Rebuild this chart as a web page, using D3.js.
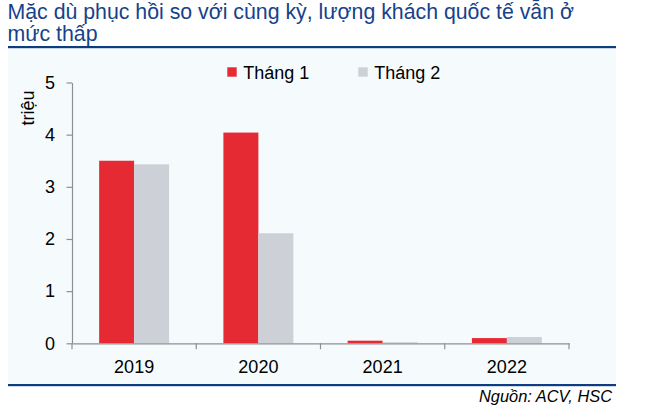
<!DOCTYPE html>
<html>
<head>
<meta charset="utf-8">
<script src="https://cdn.jsdelivr.net/npm/d3@7"></script>
<style>
  body { margin: 0; background: #fff; }
  svg { display: block; font-family: "Liberation Sans", Arial, sans-serif; }
</style>
</head>
<body>
<svg id="chart"></svg>
<script>
const years = ["2019", "2020", "2021", "2022"];
const seriesNames = ["Tháng 1", "Tháng 2"];
const thang1 = [3.50, 4.04, 0.05, 0.10];
const thang2 = [3.43, 2.11, 0.02, 0.12];
const yTicks = [0, 1, 2, 3, 4, 5];
const titleLines = ["Mặc dù phục hồi so với cùng kỳ, lượng khách quốc tế vẫn ở", "mức thấp"];

const W = 657, H = 415;
const colors = { "Tháng 1": "#e52a34", "Tháng 2": "#cdd0d6" };
const navy = "#0d3d80";

const svg = d3.select("#chart").attr("width", W).attr("height", H);

// title
svg.append("text")
  .attr("fill", "#16428a")
  .attr("font-size", 21.3)
  .selectAll("tspan")
  .data(titleLines)
  .join("tspan")
  .attr("x", 7.5)
  .attr("y", (d, i) => 18.5 + i * 22)
  .text(d => d);

// panel
svg.append("rect")
  .attr("x", 8).attr("y", 47)
  .attr("width", 608).attr("height", 338)
  .attr("fill", "#f5fbfc");

svg.append("rect").attr("x", 8).attr("y", 46).attr("width", 608).attr("height", 2.2).attr("fill", navy);
svg.append("rect").attr("x", 8).attr("y", 384).attr("width", 608).attr("height", 2.2).attr("fill", navy);

svg.append("text")
  .attr("x", 612).attr("y", 402)
  .attr("text-anchor", "end")
  .attr("font-size", 16.4)
  .attr("font-style", "italic")
  .attr("fill", "#000")
  .text("Nguồn: ACV, HSC");

// scales
const x0 = d3.scaleBand().domain(years).range([72, 569]).padding(0);
const x1 = d3.scaleBand().domain(seriesNames).range([0, x0.bandwidth()]).paddingInner(0).paddingOuter(0.776);
const y = d3.scaleLinear().domain([0, 5]).range([343.3, 82.5]);

const rows = years.map((yr, i) => ({ year: yr, values: [
  { key: "Tháng 1", value: thang1[i] },
  { key: "Tháng 2", value: thang2[i] }
]}));

const groups = svg.append("g").selectAll("g")
  .data(rows)
  .join("g")
  .attr("transform", d => `translate(${x0(d.year)},0)`);

groups.selectAll("rect")
  .data(d => d.values)
  .join("rect")
  .attr("x", d => x1(d.key))
  .attr("width", x1.bandwidth())
  .attr("y", d => y(d.value))
  .attr("height", d => y(0) - y(d.value))
  .attr("fill", d => colors[d.key]);

// axes
const axisColor = "#8f8f8f";

const yAxis = svg.append("g")
  .attr("transform", "translate(72,0)")
  .call(d3.axisLeft(y).tickValues(yTicks).tickFormat(d3.format("d")).tickSize(5.5).tickSizeOuter(0).tickPadding(11.5));

const xAxis = svg.append("g")
  .attr("transform", "translate(0,343.3)")
  .call(d3.axisBottom(x0).tickSize(0).tickSizeOuter(0).tickPadding(16.5));

// tick marks between categories
xAxis.selectAll(".sep")
  .data(d3.range(years.length + 1))
  .join("line")
  .attr("class", "sep")
  .attr("x1", i => 72 + i * x0.step())
  .attr("x2", i => 72 + i * x0.step())
  .attr("y1", 0).attr("y2", 6)
  .attr("stroke", axisColor)
  .attr("stroke-width", 1.2);

[yAxis, xAxis].forEach(g => {
  g.select(".domain").attr("stroke", axisColor).attr("stroke-width", 1.2);
  g.selectAll(".tick line").attr("stroke", axisColor).attr("stroke-width", 1.2);
  g.selectAll("text")
    .attr("font-size", 18)
    .attr("fill", "#000")
    .attr("font-family", "'Liberation Sans', Arial, sans-serif");
});

svg.append("text")
  .attr("transform", "translate(34,108) rotate(-90)")
  .attr("text-anchor", "middle")
  .attr("font-size", 18)
  .attr("fill", "#000")
  .text("triệu");

// legend
const legend = svg.append("g").selectAll("g")
  .data(seriesNames)
  .join("g")
  .attr("transform", (d, i) => `translate(${227.3 + i * 131},0)`);

legend.append("rect")
  .attr("x", 0).attr("y", 67.3)
  .attr("width", 9.4).attr("height", 9.4)
  .attr("fill", d => colors[d]);

legend.append("text")
  .attr("x", 16).attr("y", 78.5)
  .attr("font-size", 18)
  .attr("fill", "#000")
  .text(d => d);
</script>
</body>
</html>
